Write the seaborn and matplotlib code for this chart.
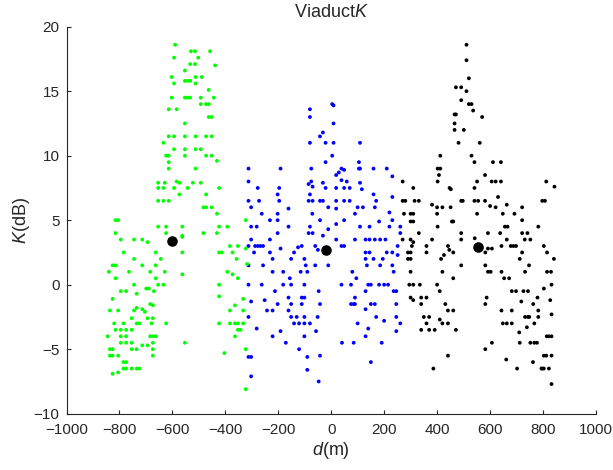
import matplotlib
matplotlib.use("Agg")
import matplotlib.pyplot as plt
import seaborn as sns
import pandas as pd

# K level (dB) -> distances d (m) of the points on that level
green_rows = [
    (18.6, [-590]), (18.1, [-530, -515, -458]), (17.6, [-594, -503]),
    (17.1, [-533, -515]), (17.0, [-439]), (16.6, [-553]), (16.1, [-603, -513, -489]),
    (15.8, [-553, -543, -533]), (15.6, [-594, -513]), (15.1, [-463]),
    (14.5, [-603, -553, -543, -533, -493, -444]), (14.0, [-493, -473, -463]),
    (13.6, [-614, -584]), (13.0, [-463, -452]), (12.5, [-553]),
    (11.5, [-614, -594, -553, -513, -473, -452]), (11.0, [-634]),
    (10.5, [-594, -553, -513, -493]), (10.0, [-624, -614, -553, -473, -452]),
    (9.6, [-432]), (9.5, [-614]), (9.0, [-614, -513]), (8.0, [-584]),
    (7.9, [-574, -654, -629, -523, -493]), (7.5, [-634, -654, -594, -543, -424]),
    (7.0, [-574, -473]), (6.5, [-654, -634, -614]), (6.0, [-483, -473, -452]),
    (5.5, [-432]), (5.0, [-815, -805, -323]), (4.5, [-654, -624, -563, -424, -393]),
    (4.0, [-815, -624, -483, -432]), (3.8, [-563]), (3.7, [-563]),
    (3.5, [-795, -745, -714]), (3.3, [-694]), (3.0, [-383, -353]),
    (2.8, [-323]), (2.5, [-784, -663, -563, -424, -414, -373]),
    (2.0, [-745, -644, -358]), (1.6, [-318]), (1.5, [-826, -815, -714, -663]),
    (1.0, [-840, -764, -684, -629, -393]), (0.8, [-563, -373]),
    (0.5, [-815, -663, -353]), (0.0, [-745, -654, -634, -424]),
    (-0.3, [-699, -689]), (-0.5, [-795, -775, -670]), (-0.7, [-735]),
    (-0.9, [-424]), (-1.1, [-333, -826]), (-1.5, [-684]), (-1.6, [-674, -364]),
    (-1.8, [-735]), (-1.9, [-714]), (-2.0, [-836, -805, -745, -383, -333]),
    (-2.1, [-704]), (-2.6, [-754, -694, -674]),
    (-3.0, [-820, -785, -735, -725, -679, -624, -424, -383, -364, -353, -333]),
    (-3.5, [-815, -795, -775, -754, -353, -343]),
    (-4.0, [-845, -795, -775, -684, -674, -663, -364]),
    (-4.5, [-795, -775, -754, -674, -553]), (-4.7, [-714, -694]),
    (-5.0, [-836, -826, -754, -735, -674, -323]), (-5.3, [-404]),
    (-5.5, [-836, -826, -805, -674]), (-6.0, [-785, -775]),
    (-6.5, [-785, -775, -754, -735, -725]), (-6.8, [-805]), (-6.9, [-826]),
    (-8.1, [-323]),
]

blue_rows = [
    (14.0, [3]), (13.9, [8]), (13.6, [-81]), (13.0, [-81]), (12.5, [8]),
    (11.8, [-32]), (11.5, [-43]), (11.0, [-81, -22, 8, 108]), (10.0, [3]),
    (9.5, [-22, 104]), (9.0, [-313, -192, -76, 38, 104, 108, 159, 209]),
    (8.9, [48]), (8.7, [28]), (8.5, [18]), (8.4, [230]), (8.1, [38]),
    (8.0, [-313, -76, 58]), (7.9, [-32, 108]), (7.8, [-86]), (7.6, [-71]),
    (7.5, [-278, -197, -22, 18, 48, 69]), (7.4, [115]), (7.0, [-203, -81, 159]),
    (6.8, [230]), (6.5, [-313, -273, -197, -86, -71, -43, -32, 18, 48, 69, 169]),
    (6.0, [-303, -12, 99, 119, 164]), (5.9, [-162, 18]), (5.6, [219]),
    (5.5, [-263, -203, -72, 89]), (5.0, [-232, -203, -43, 48, 230]),
    (4.9, [180]), (4.7, [18]), (4.5, [-303, -282, -162, -81, 108, 144, 219, 260]),
    (4.3, [-12]), (4.0, [-203, -86, -71, 260]), (3.8, [-32]),
    (3.5, [-303, -232, 18, 89, 129, 144, 164, 184, 204]),
    (3.0, [-313, -288, -278, -268, -258, -112, -61, 38, 48, 250]), (2.9, [-126]),
    (2.8, [-192]), (2.7, [-51]), (2.5, [-292, -232, -141, 129, 144, 209, 230]),
    (2.3, [250]), (2.0, [-222, -152, -102, 129, 159, 194]),
    (1.5, [-313, -258, -97, -61, -12, 134, 184, 230]),
    (1.0, [-222, -182, -116, -91, 79, 235]), (0.5, [-157, 94]),
    (0.0, [-313, -263, -182, -152, -102, 38, 74, 139, 149, 180, 199, 214]),
    (-0.5, [-213, -48, 129, 235, 245]), (-1.0, [-162, -112, -102, 89]),
    (-1.2, [-252]), (-1.3, [-303]),
    (-1.5, [-203, -152, -112, -43, 74, 84, 89, 149, 164, 245]),
    (-1.9, [129]), (-2.0, [-243, -222, -162]),
    (-2.5, [-313, -152, -131, -102, -52, 169, 245]), (-2.8, [199]),
    (-3.0, [-141, -122, -102, -81, 99, 260]), (-3.4, [-282, 139]),
    (-3.6, [-192, -58, 245]), (-4.0, [-222, -102, 129]),
    (-4.5, [-172, 40, 84, 190]), (-5.0, [-122]), (-5.5, [-43]),
    (-5.6, [-91, -313, -303]), (-6.0, [149]), (-6.6, [-91]), (-7.1, [-303]),
    (-7.5, [-48]),
]

black_rows = [
    (18.6, [510]), (17.4, [510]), (16.0, [519]), (15.3, [470, 490]), (15.0, [510]),
    (14.3, [490]), (14.0, [519, 529]), (13.5, [535]), (13.2, [465, 470]),
    (13.0, [569]), (12.5, [465]), (12.0, [465, 500]), (11.0, [480, 560]),
    (10.0, [411, 529]), (9.5, [540, 610, 640]), (9.0, [401, 411]), (8.5, [406, 580]),
    (8.0, [269, 401, 550, 605, 620, 640, 811]), (7.6, [842]), (7.5, [309, 446, 540]),
    (7.4, [451]), (6.8, [629]),
    (6.5, [269, 279, 314, 330, 490, 496, 540, 554, 580, 796, 806]),
    (6.2, [380, 662]), (6.1, [599]), (6.0, [399, 419, 450, 620, 720]),
    (5.5, [274, 299, 309, 399, 550, 647, 691]), (5.0, [720]),
    (4.9, [299, 309, 455, 460]), (4.5, [401, 655, 665, 781]),
    (4.0, [330, 490, 591, 637, 720, 740]), (3.6, [541]),
    (3.5, [269, 299, 380, 490, 662, 730, 751]), (3.3, [309]),
    (3.0, [304, 359, 440, 642, 677, 687, 697, 802]), (2.8, [591, 606]),
    (2.7, [445]), (2.5, [289, 299, 359, 460, 581, 720, 814]), (2.3, [425]),
    (2.0, [289, 299, 414, 711, 840]), (1.5, [490, 581, 746]),
    (1.0, [299, 419, 591, 601, 642, 731, 814, 829]), (0.5, [460, 652, 671]),
    (0.0, [294, 309, 334, 399, 831]), (-0.3, [802]),
    (-0.5, [409, 681, 697, 725, 742]), (-1.0, [299, 339, 359, 586, 778]),
    (-1.2, [309, 826]), (-1.3, [717]), (-1.5, [339, 430, 581, 762]),
    (-2.0, [440, 460, 642, 681, 781]), (-2.3, [831]),
    (-2.5, [349, 369, 731, 742, 747, 781]), (-2.7, [409]),
    (-3.0, [419, 440, 359, 647, 662, 681, 766]), (-3.3, [738]),
    (-3.5, [339, 369, 390, 470]), (-3.7, [709]), (-4.0, [813, 821, 831]),
    (-4.5, [606, 711, 751, 766, 776]), (-5.0, [581]), (-5.5, [440, 802, 811, 831]),
    (-5.8, [660]), (-6.0, [761]), (-6.5, [385, 701, 793, 796, 802, 821]),
    (-7.7, [831]),
]

mean_d = [-603, -22, 552]
mean_k = [3.4, 2.7, 2.9]

x_ticks = list(range(-1000, 1001, 200))
y_ticks = list(range(-10, 21, 5))


def flatten(rows, name):
    recs = []
    for k, ds in rows:
        for d in ds:
            recs.append((name, d, k))
    return recs


df = pd.DataFrame(flatten(blue_rows, "blue") + flatten(black_rows, "black")
                  + flatten(green_rows, "green"), columns=["group", "d", "K"])
means = pd.DataFrame({"d": mean_d, "K": mean_k})

sns.set_style("white")
plt.rcParams["font.family"] = ["Liberation Sans", "DejaVu Sans"]
plt.rcParams["mathtext.fontset"] = "custom"
plt.rcParams["mathtext.rm"] = "Liberation Sans"
plt.rcParams["mathtext.it"] = "Liberation Sans:italic"

fig = plt.figure(figsize=(6.13, 4.70), dpi=100)
ax = fig.add_axes([66.5 / 613, 56.3 / 470, 529.8 / 613, 387 / 470])

sns.scatterplot(data=df, x="d", y="K", hue="group",
                palette={"green": "#00ff00", "blue": "#0000ff", "black": "#000000"},
                s=7.5, linewidth=0, legend=False, ax=ax)
sns.scatterplot(data=means, x="d", y="K", color="black", s=58, linewidth=0,
                legend=False, ax=ax, zorder=5)

ax.set_xlim(-1000, 1000)
ax.set_ylim(-10, 20)
ax.set_xticks(x_ticks)
ax.set_yticks(y_ticks)
ax.tick_params(bottom=True, left=True, direction="in", length=3, width=0.8,
               colors="#262626", labelsize=11)
ax.tick_params(axis="x", pad=7)
ax.tick_params(axis="y", pad=5)
for side in ["top", "right"]:
    ax.spines[side].set_visible(False)
for side in ["left", "bottom"]:
    ax.spines[side].set_color("#262626")
    ax.spines[side].set_linewidth(0.8)

ax.set_title("Viaduct$K$", fontsize=13, color="#262626", pad=7)
ax.set_xlabel("$d$(m)", fontsize=13, color="#262626", labelpad=2)
ax.set_ylabel("$K$(dB)", fontsize=13, color="#262626", labelpad=1)

fig.savefig("out.png", dpi=100)
